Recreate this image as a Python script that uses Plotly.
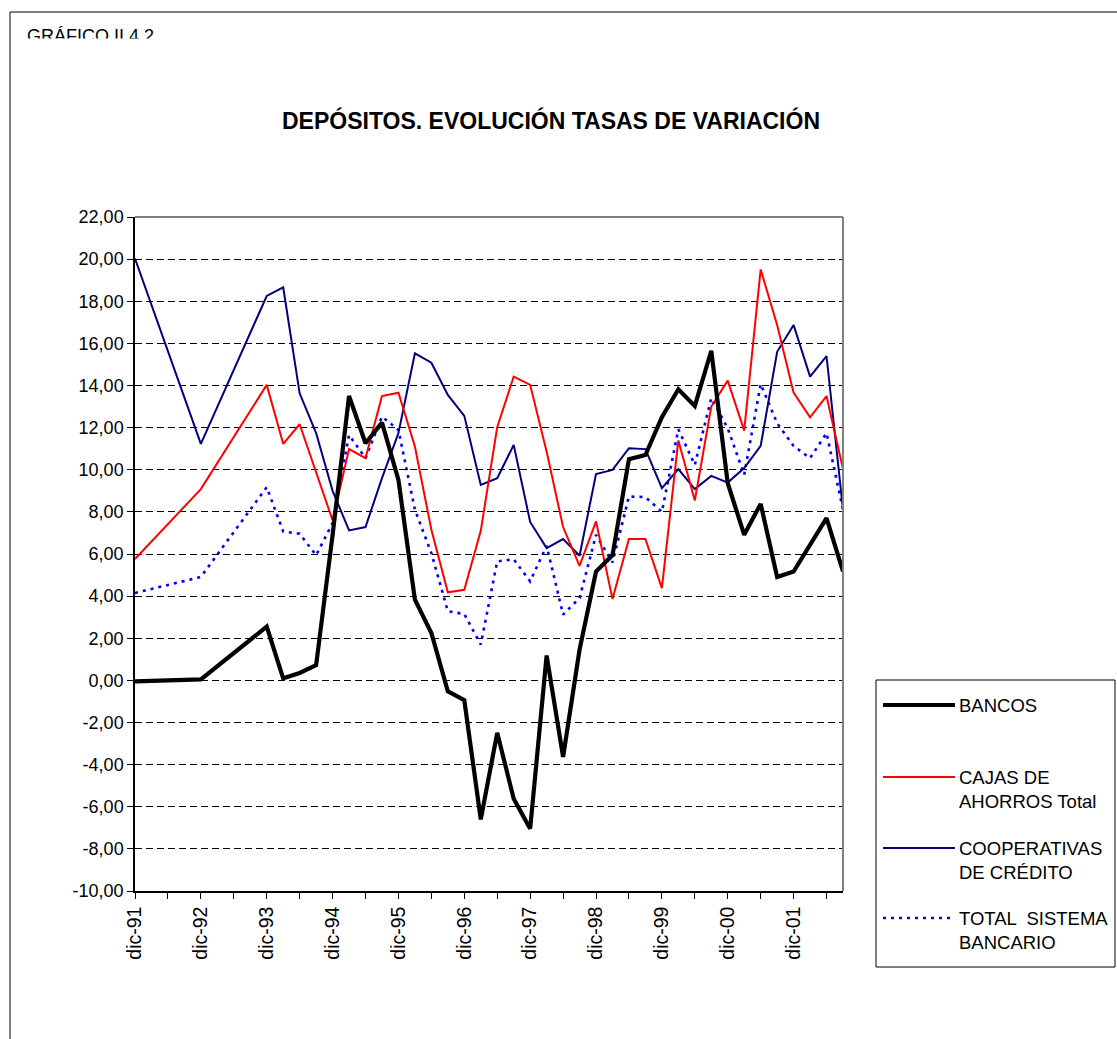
import plotly.graph_objects as go

# ---------------- data ----------------
PERIODS = ["dic-91", "dic-92", "dic-93",
           "mar-94", "jun-94", "sep-94", "dic-94",
           "mar-95", "jun-95", "sep-95", "dic-95",
           "mar-96", "jun-96", "sep-96", "dic-96",
           "mar-97", "jun-97", "sep-97", "dic-97",
           "mar-98", "jun-98", "sep-98", "dic-98",
           "mar-99", "jun-99", "sep-99", "dic-99",
           "mar-00", "jun-00", "sep-00", "dic-00",
           "mar-01", "jun-01", "sep-01", "dic-01",
           "mar-02", "jun-02", "sep-02"]

BANCOS = [-0.05, 0.05, 2.55,
          0.10, 0.35, 0.72, 6.90,
          13.50, 11.26, 12.24, 9.52,
          3.83, 2.25, -0.52, -0.94,
          -6.60, -2.49, -5.62, -7.04,
          1.18, -3.63, 1.46, 5.17,
          5.94, 10.50, 10.70, 12.50,
          13.82, 13.03, 15.65, 9.36,
          6.91, 8.38, 4.91, 5.17,
          6.44, 7.70, 5.17]

CAJAS = [5.76, 9.08, 14.03,
         11.23, 12.16, 9.85, 7.60,
         10.98, 10.55, 13.50, 13.66,
         11.10, 7.15, 4.18, 4.30,
         7.10, 12.02, 14.42, 14.03,
         10.86, 7.28, 5.44, 7.55,
         3.86, 6.71, 6.71, 4.38,
         11.39, 8.54, 13.00, 14.23,
         11.86, 19.51, 16.87, 13.66,
         12.49, 13.50, 10.03]

COOPERATIVAS = [20.03, 11.23, 18.25,
                18.66, 13.63, 11.74, 9.00,
                7.12, 7.28, 9.60, 11.74,
                15.53, 15.08, 13.55, 12.56,
                9.28, 9.60, 11.18, 7.52,
                6.28, 6.71, 5.92, 9.80,
                9.99, 11.02, 10.98, 9.13,
                10.03, 9.08, 9.71, 9.39,
                10.08, 11.13, 15.60, 16.87,
                14.42, 15.40, 8.10]

TOTAL = [4.15, 4.91, 9.17,
         7.07, 6.96, 5.94, 7.47,
         11.65, 10.55, 12.52, 11.89,
         8.10, 6.04, 3.28, 3.15,
         1.70, 5.65, 5.75, 4.70,
         6.39, 3.12, 3.91, 6.91,
         5.60, 8.73, 8.70, 8.00,
         11.92, 10.23, 13.40, 11.97,
         9.76, 14.07, 12.21, 11.13,
         10.55, 11.74, 8.10]

X_TICK_LABELS = ["dic-91", "dic-92", "dic-93", "dic-94", "dic-95", "dic-96",
                 "dic-97", "dic-98", "dic-99", "dic-00", "dic-01"]
Y_TICKS = [-10, -8, -6, -4, -2, 0, 2, 4, 6, 8, 10, 12, 14, 16, 18, 20, 22]

TITLE = "DEPÓSITOS. EVOLUCIÓN TASAS DE VARIACIÓN"
HEADER = "GRÁFICO II.4.2"
NAMES = ["BANCOS", "CAJAS DE<br>AHORROS Total", "COOPERATIVAS<br>DE CRÉDITO",
         "TOTAL  SISTEMA<br>BANCARIO"]

# ---------------- helpers ----------------
MONTHS = {"mar": 3, "jun": 6, "sep": 9, "dic": 12}


def qidx(label):
    m, y = label.split("-")
    yy = int(y)
    year = 1900 + yy if yy > 50 else 2000 + yy
    return ((year - 1991) * 12 + MONTHS[m] - 12) // 3


X = [qidx(p) for p in PERIODS]
XT = [qidx(t) for t in X_TICK_LABELS]
YT_TEXT = [f"{v:.2f}".replace(".", ",") for v in Y_TICKS]

FONT = "Arial, 'Liberation Sans', sans-serif"

W, H = 1117, 1039
L, R, T, B = 135, 843, 217, 891   # plot area pixel box
PW, PH = R - L, B - T


def px(x):
    return (x - L) / PW


def py(y):
    return (B - y) / PH


STYLES = [
    dict(color="#000000", width=4.2, dash="solid"),
    dict(color="#FF0000", width=2, dash="solid"),
    dict(color="#000080", width=2, dash="solid"),
    dict(color="#0000FF", width=2.6, dash="3px,5px"),
]
SERIES = [BANCOS, CAJAS, COOPERATIVAS, TOTAL]

fig = go.Figure()
# draw order: total, coop, cajas, bancos (bancos on top)
for k in [3, 2, 1, 0]:
    fig.add_trace(go.Scatter(
        x=X, y=SERIES[k], mode="lines", name=NAMES[k].replace("<br>", " "),
        line=STYLES[k], showlegend=False, hoverinfo="skip"))

shapes = []
# outer frame (clipped at right/bottom like the reference)
shapes.append(dict(type="rect", xref="paper", yref="paper",
                   x0=px(10), x1=px(1140), y0=py(1060), y1=py(12),
                   line=dict(color="#000000", width=1), layer="below"))
# gray top and right border of plot area
shapes.append(dict(type="line", xref="paper", yref="paper",
                   x0=0, x1=1, y0=1, y1=1,
                   line=dict(color="#808080", width=2), layer="above"))
shapes.append(dict(type="line", xref="paper", yref="paper",
                   x0=1, x1=1, y0=0, y1=1,
                   line=dict(color="#808080", width=2), layer="above"))

# manual legend
shapes.append(dict(type="rect", xref="paper", yref="paper",
                   x0=px(876), x1=px(1115), y0=py(967), y1=py(680),
                   line=dict(color="#000000", width=1), fillcolor="white",
                   layer="below"))
LEG_Y = [705, 777, 848, 918]
for k in range(4):
    shapes.append(dict(type="line", xref="paper", yref="paper",
                       x0=px(883), x1=px(955), y0=py(LEG_Y[k]), y1=py(LEG_Y[k]),
                       line=STYLES[k], layer="above"))

annotations = []
for k in range(4):
    annotations.append(dict(xref="paper", yref="paper", x=px(957), y=py(LEG_Y[k] - 12),
                            xanchor="left", yanchor="top", align="left",
                            text=NAMES[k], showarrow=False,
                            font=dict(family=FONT, size=18.5, color="#000000")))
# title
annotations.append(dict(xref="paper", yref="paper", x=px(551), y=py(121),
                        xanchor="center", yanchor="middle",
                        text="<b>" + TITLE + "</b>", showarrow=False,
                        font=dict(family=FONT, size=23, color="#000000")))
# header (clipped at bottom like the reference)
annotations.append(dict(xref="paper", yref="paper", x=px(25), y=py(36),
                        xanchor="left", yanchor="middle",
                        text=HEADER, showarrow=False,
                        font=dict(family=FONT, size=18, color="#000000")))
annotations.append(dict(xref="paper", yref="paper", x=px(18), y=py(38),
                        xanchor="left", yanchor="top",
                        text=" ", showarrow=False, bgcolor="#FFFFFF",
                        width=170, height=16, borderpad=0,
                        font=dict(family=FONT, size=10)))

fig.update_layout(
    width=W, height=H,
    margin=dict(l=L, r=W - R, t=T, b=H - B, pad=0),
    paper_bgcolor="white", plot_bgcolor="white",
    font=dict(family=FONT, size=18, color="#000000"),
    showlegend=False,
    shapes=shapes, annotations=annotations,
    xaxis=dict(
        range=[0, 43], tickmode="array", tickvals=XT, ticktext=X_TICK_LABELS,
        tickangle=-90, ticks="outside", ticklen=6, tickcolor="#000000",
        tickfont=dict(family=FONT, size=19.5, color="#000000"),
        showline=True, linecolor="#000000", linewidth=1.5,
        showgrid=False, zeroline=False,
        minor=dict(dtick=2, tick0=0, ticks="outside", ticklen=6,
                   tickcolor="#000000", showgrid=False),
    ),
    yaxis=dict(
        range=[-10, 22], tickmode="array", tickvals=Y_TICKS, ticktext=YT_TEXT,
        ticks="outside", ticklen=6, tickcolor="#000000",
        tickfont=dict(family=FONT, size=18, color="#000000"),
        showline=True, linecolor="#000000", linewidth=1.5,
        showgrid=True, gridcolor="#000000", gridwidth=1, griddash="7px,4px",
        zeroline=False,
    ),
)

fig.write_html("out.html",
               config={"displayModeBar": False},
               post_script="document.body.style.margin='0';"
                           "document.body.style.overflow='hidden';")
